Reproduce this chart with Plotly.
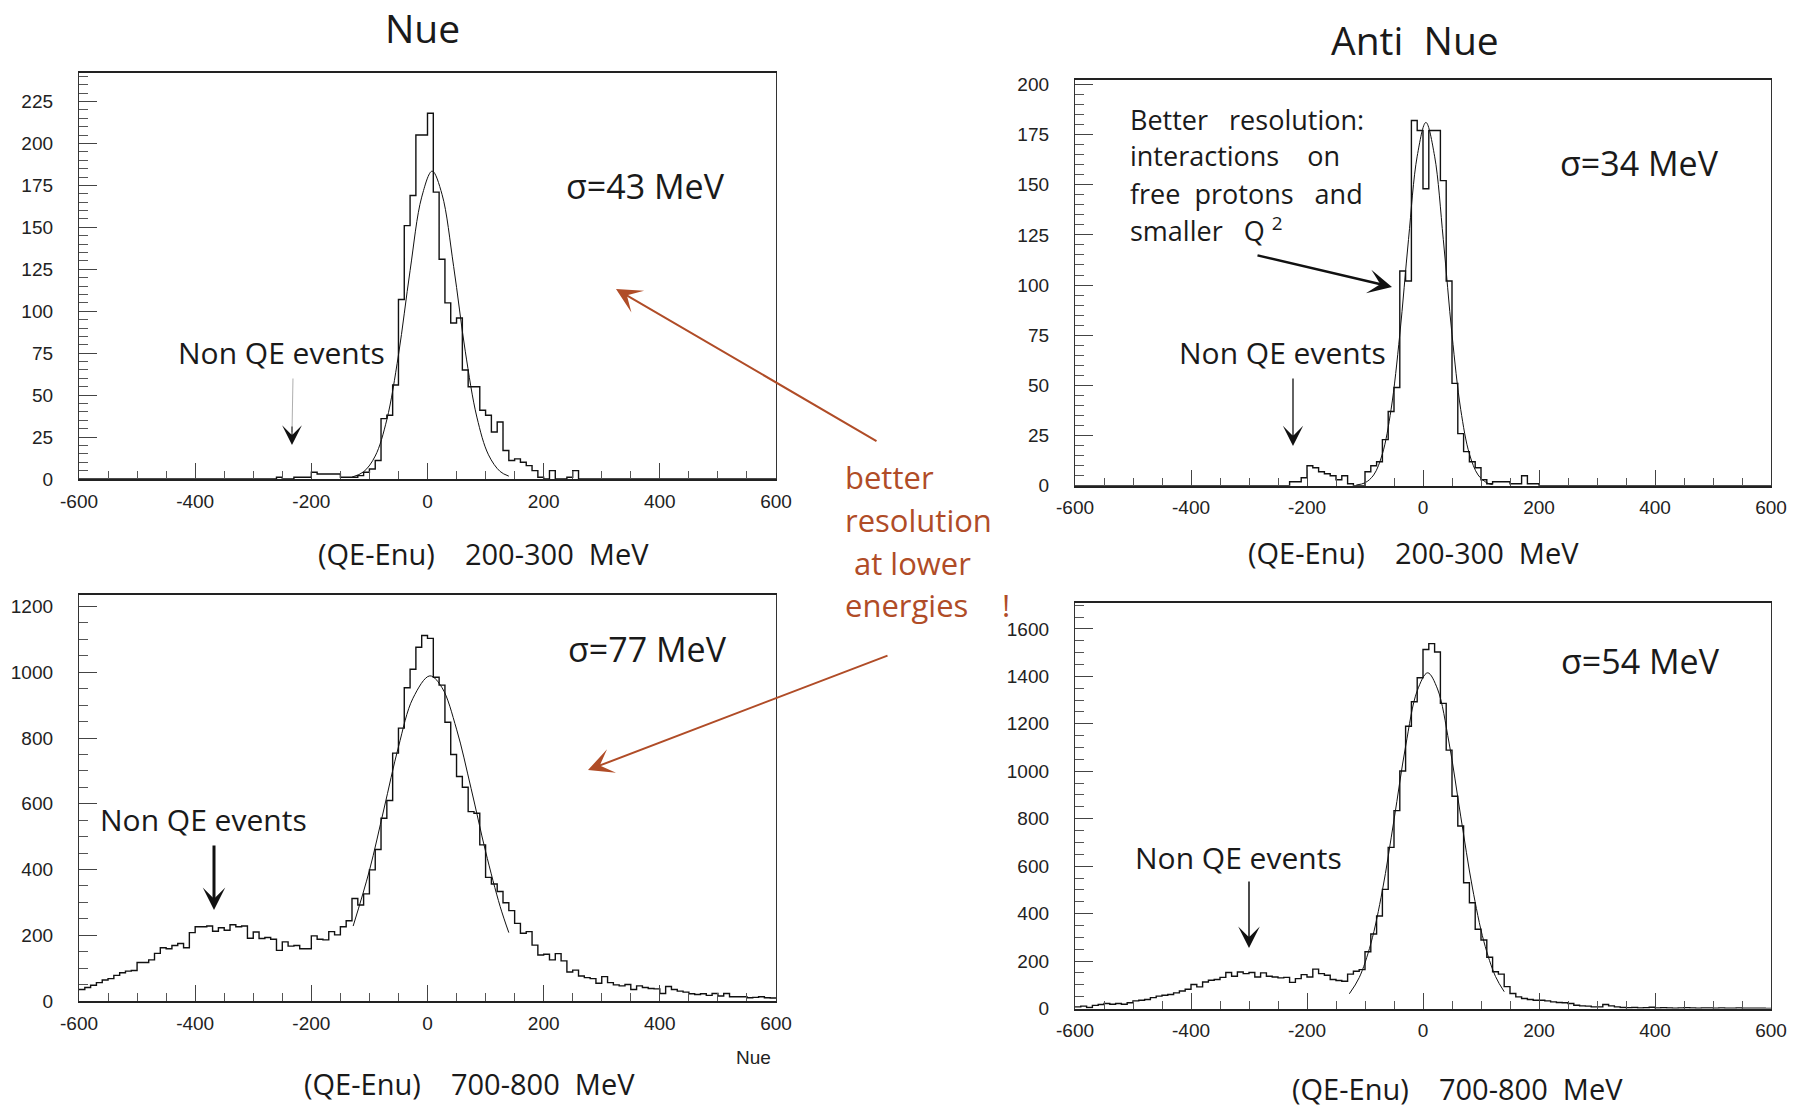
import plotly.graph_objects as go

W, H = 1799, 1109

# ---------------- data ----------------
bin_width = 10
bin_start = -600

# Nue, 200-300 MeV (counts per 10 MeV bin, from -600 to 600)
nue_low_counts = [0] * 34 + [
    1, 0, 0, 1, 1, 1, 4, 3, 3, 3,
    3, 1, 1, 1, 2, 4, 6, 11, 36, 38,
    56, 107, 151, 169, 205, 205, 218, 171, 131, 105,
    93, 96, 65, 55, 55, 41, 38, 28, 34, 17,
    11, 12, 10, 8, 5, 1, 0, 5, 0, 0,
    1, 5] + [0] * 34

# Nue, 700-800 MeV
nue_high_counts = [
    35, 41, 48, 56, 64, 68, 78, 86, 91, 93,
    117, 117, 125, 145, 162, 159, 169, 175, 162, 208,
    226, 226, 228, 212, 223, 215, 232, 226, 228, 191,
    210, 190, 193, 188, 154, 180, 167, 169, 159, 159,
    198, 188,
    186, 211, 201, 226, 244, 312, 292, 326, 399, 461,
    556, 610, 754, 830, 953, 1009, 1076, 1112, 1103, 985,
    961, 848, 750, 683, 650, 576, 571, 475, 376, 356,
    333, 299, 275, 236, 206, 211, 170, 140,
    142, 125, 144, 122, 88, 94, 76, 71, 68, 54,
    74, 56, 49, 46, 50, 35, 46, 41, 38, 37,
    23, 44, 35, 30, 27, 22, 20, 22, 17, 23,
    15, 23, 13, 13, 13, 10, 11, 13, 10, 9]

# Anti Nue, 200-300 MeV
anue_low_counts = [0] * 37 + [
    2, 2, 4, 10, 9, 7, 6, 5, 3, 5,
    1, 0, 0, 7, 10, 12, 23, 37, 49, 107,
    102, 182, 177, 148, 177, 177, 152, 102, 51, 26,
    17, 12, 9, 3, 1, 2, 2, 2, 1, 1,
    5, 1, 1] + [0] * 40

# Anti Nue, 700-800 MeV
anue_high_counts = [
    7, 10, 4, 13, 17, 21, 18, 21, 18, 24,
    32, 35, 38, 46, 52, 56, 59, 66, 74, 81,
    101, 91, 112, 119, 122, 131, 152, 136, 154, 147,
    152, 133, 150, 136, 133, 129, 131, 110, 126, 143,
    133, 166, 147, 140, 122, 118, 115, 145, 157, 164,
    239, 314, 390, 502, 679, 834, 1001, 1190, 1293, 1394,
    1513, 1538, 1503, 1286, 1089, 895, 769, 530, 446, 334,
    289, 216, 155, 145, 92,
    63, 49, 42, 38, 35, 35, 32, 28, 25, 24,
    21, 14, 11, 10, 7, 7, 17, 11, 7, 4,
    3, 4, 2, 3, 5, 2, 3, 2, 1, 2,
    3, 2, 1, 2, 2, 1, 2, 1, 1, 2,
    1, 1, 1, 1, 0]

# fitted gaussian curves
nue_low_fit_x = [-130, -110, -90, -70, -50, -30, -10, 8, 25, 45, 65, 85, 105, 125, 140]
nue_low_fit_y = [1.1, 4.3, 13.7, 35.4, 73.9, 124.2, 168.0, 183.5, 169.7, 126.7, 76.2, 36.9, 14.4, 4.5, 1.7]

nue_high_fit_x = [-128, -100, -75, -50, -25, 4, 25, 50, 75, 100, 125, 140]
nue_high_fit_y = [228, 397, 584, 773, 921, 989, 953, 827, 647, 455, 288, 208]

anue_low_fit_x = [-115, -100, -85, -70, -55, -40, -25, -10, 5, 20, 35, 50, 65, 80, 95, 110, 120]
anue_low_fit_y = [0.4, 1.5, 5.4, 15.9, 38.1, 75.4, 122.7, 164.2, 181, 164.2, 122.7, 75.4, 38.1, 15.9, 5.4, 1.5, 0.6]

anue_high_fit_x = [-127, -110, -90, -70, -50, -30, -10, 8, 25, 45, 65, 85, 105, 125, 140]
anue_high_fit_y = [62, 130, 273, 498, 795, 1105, 1339, 1415, 1347, 1119, 811, 512, 282, 135, 71]

x_tick_vals = [-600, -400, -200, 0, 200, 400, 600]
x_tick_text = ["-600", "-400", "-200", "0", "200", "400", "600"]
y_low_ticks = [0, 25, 50, 75, 100, 125, 150, 175, 200, 225]
y_nue_high_ticks = [0, 200, 400, 600, 800, 1000, 1200]
y_anue_high_ticks = [0, 200, 400, 600, 800, 1000, 1200, 1400, 1600]

sigma_labels = ["σ=43 MeV", "σ=77 MeV", "σ=34 MeV", "σ=54 MeV"]
range_labels = ["200-300", "700-800", "200-300", "700-800"]

# ---------------- helpers ----------------
def px(x):
    return x / W

def py(y):
    return 1 - y / H

TXT = "Open Sans"
TICKF = "Liberation Sans"
BROWN = "#b04c27"

def step_xy(counts):
    xs, ys = [], []
    for i, c in enumerate(counts):
        xs.append(bin_start + i * bin_width)
        ys.append(c)
    xs.append(bin_start + len(counts) * bin_width)
    ys.append(counts[-1])
    return xs, ys

fig = go.Figure()

panels = [
    (nue_low_counts, nue_low_fit_x, nue_low_fit_y, ""),
    (nue_high_counts, nue_high_fit_x, nue_high_fit_y, "2"),
    (anue_low_counts, anue_low_fit_x, anue_low_fit_y, "3"),
    (anue_high_counts, anue_high_fit_x, anue_high_fit_y, "4"),
]

for counts, fx, fy, s in panels:
    hx, hy = step_xy(counts)
    fig.add_trace(go.Scatter(x=hx, y=hy, mode="lines", line=dict(shape="hv", color="#111", width=1.4),
                             xaxis="x" + s, yaxis="y" + s, hoverinfo="skip"))
    fig.add_trace(go.Scatter(x=fx, y=fy, mode="lines", line=dict(shape="spline", color="#111", width=1.0),
                             xaxis="x" + s, yaxis="y" + s, hoverinfo="skip"))

# panel pixel boxes: left, right, top, bottom
boxes = {
    "": (79, 776, 73, 479),
    "2": (79, 776, 595, 1001),
    "3": (1075, 1771, 79.5, 485.8),
    "4": (1075, 1771, 602.6, 1008.5),
}
yranges = {"": 242, "2": 1235, "3": 202.4, "4": 1711}
yticks = {"": (y_low_ticks, 5), "2": (y_nue_high_ticks, 50), "3": (y_low_ticks[:-1], 5), "4": (y_anue_high_ticks, 50)}

layout = dict(width=W, height=H, margin=dict(l=0, r=0, t=0, b=0, autoexpand=False), paper_bgcolor="white",
              plot_bgcolor="white", showlegend=False)

for s, (l, r, t, b) in boxes.items():
    layout["xaxis" + s] = dict(
        domain=[px(l), px(r)], anchor="y" + s, range=[-600, 600],
        tickmode="array", tickvals=x_tick_vals, ticktext=x_tick_text,
        ticks="inside", ticklen=16, tickwidth=1.2, tickcolor="#444",
        showline=True, linecolor="#222", linewidth=1.5, mirror=True,
        showgrid=False, zeroline=False, ticklabelstandoff=4, automargin=False,
        tickfont=dict(family=TICKF, size=19, color="#222"),
        minor=dict(tickmode="linear", tick0=-600, dtick=50, ticks="inside", ticklen=8,
                   tickcolor="#555", tickwidth=1, showgrid=False),
    )
    tv, mdt = yticks[s]
    layout["yaxis" + s] = dict(
        domain=[py(b), py(t)], anchor="x" + s, range=[0, yranges[s]],
        tickmode="array", tickvals=tv, ticktext=[str(v) for v in tv],
        ticks="inside", ticklen=18, tickwidth=1.2, tickcolor="#444",
        showline=True, linecolor="#333", linewidth=1.3, mirror=True,
        showgrid=False, zeroline=False, ticklabelstandoff=21, automargin=False,
        tickfont=dict(family=TICKF, size=19, color="#222"),
        minor=dict(tickmode="linear", tick0=0, dtick=mdt, ticks="inside", ticklen=9,
                   tickcolor="#555", tickwidth=1, showgrid=False),
    )

fig.update_layout(**layout)

ann = []

def text(x, y, t, size, xanchor="left", family=TXT, color="#1a1a1a"):
    ann.append(dict(x=px(x), y=py(y), xref="paper", yref="paper", text=t, showarrow=False,
                    xanchor=xanchor, yanchor="middle", font=dict(family=family, size=size, color=color)))

def arrow(hx, hy, tx, ty, color, width, size, head=3):
    ann.append(dict(x=px(hx), y=py(hy), xref="paper", yref="paper", text="", showarrow=True,
                    ax=tx - hx, ay=ty - hy, arrowhead=head, arrowsize=size, arrowwidth=width,
                    arrowcolor=color, standoff=0))

NB = "\u00a0"
# titles
text(422, 27, "Nue", 39, "center")
text(1415, 39, "Anti" + NB * 2 + "Nue", 39, "center")

# x titles
text(483, 554, "(QE-Enu)" + NB * 4 + range_labels[0] + NB * 2 + "MeV", 29, "center")
text(469, 1083, "(QE-Enu)" + NB * 4 + range_labels[1] + NB * 2 + "MeV", 29, "center")
text(1413, 552, "(QE-Enu)" + NB * 4 + range_labels[2] + NB * 2 + "MeV", 29, "center")
text(1457, 1088, "(QE-Enu)" + NB * 4 + range_labels[3] + NB * 2 + "MeV", 29, "center")
text(753, 1057, "Nue", 19, "center", family=TICKF, color="#222")

# sigma labels
text(564, 186, sigma_labels[0], 34)
text(566, 649, sigma_labels[1], 34)
text(1558, 163, sigma_labels[2], 34)
text(1559, 661, sigma_labels[3], 34)

# Non QE labels
text(176, 353, "Non QE events", 30)
text(1177, 353, "Non QE events", 30)
text(98, 819, "Non QE events", 30)
text(1133, 857, "Non QE events", 30)

# anti-nue explanation
text(1128, 119, "Better" + NB * 3 + "resolution:", 27)
text(1128, 156, "interactions" + NB * 4 + "on", 27)
text(1128, 193, "free" + NB * 2 + "protons" + NB * 3 + "and", 27)
text(1128, 230, "smaller" + NB * 3 + "Q" + NB + "<sup>2</sup>", 27)

# brown comment
text(843, 477, "better", 31, color=BROWN)
text(843, 520, "resolution", 31, color=BROWN)
text(852, 563, "at lower", 31, color=BROWN)
text(843, 605, "energies", 31, color=BROWN)
text(1000, 605, "!", 31, color=BROWN)

# arrows
arrow(616, 289, 878, 442, BROWN, 2, 2.1)
arrow(588, 770, 889, 655, BROWN, 2, 2.1)
# thin grey stem + black head (Nue low)
ann.append(dict(x=px(292), y=py(432), xref="paper", yref="paper", text="", showarrow=True,
                ax=1, ay=-55, arrowhead=0, arrowwidth=0.8, arrowcolor="#999", standoff=0))
arrow(292, 445, 292, 425, "#111", 1, 3.3)
arrow(1293, 446, 1293, 377, "#111", 1.3, 2.6)
arrow(1392, 287, 1256, 255, "#111", 2.5, 1.6)
arrow(214, 910, 214, 844, "#111", 3, 1.25)
arrow(1249, 948, 1249, 880, "#111", 1.5, 2.4)

fig.update_layout(annotations=ann)
fig.write_html("out.html")
